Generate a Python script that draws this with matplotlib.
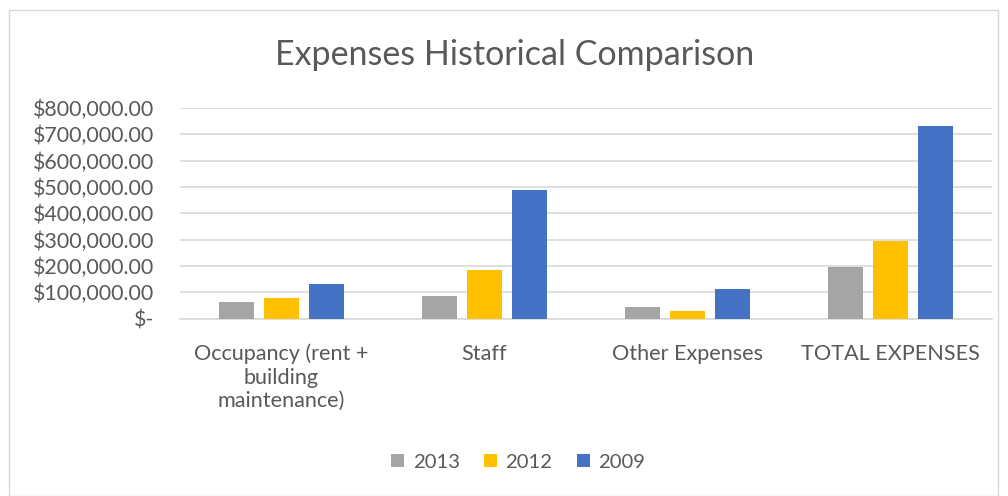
import numpy as np
import matplotlib.pyplot as plt
from matplotlib.patches import Rectangle
from matplotlib.ticker import FuncFormatter

plt.rcParams['font.family'] = ['Lato', 'DejaVu Sans']

# Data
categories = ['Occupancy (rent +\nbuilding\nmaintenance)', 'Staff', 'Other Expenses', 'TOTAL EXPENSES']
years = ['2013', '2012', '2009']
vals_2013 = [62000, 86000, 44500, 196500]
vals_2012 = [77500, 185000, 29000, 294000]
vals_2009 = [132000, 488000, 112000, 733000]
colors = ['#A5A5A5', '#FFC000', '#4472C4']

text_col = '#595959'
grid_col = '#D9D9D9'

fig = plt.figure(figsize=(10.08, 4.96), dpi=100)
ax = fig.add_axes([180 / 1008, 1 - 318.7 / 496, 812 / 1008, (318.7 - 108) / 496])

# outer chart border
fig.patches.append(Rectangle((9 / 1008, 0.5 / 496), 989 / 1008, 486 / 496,
                             transform=fig.transFigure, fill=False,
                             edgecolor=grid_col, linewidth=1))

x = np.arange(len(categories))
w = 0.175
step = 0.222
for i, (vals, yr) in enumerate(zip([vals_2013, vals_2012, vals_2009], years)):
    ax.bar(x + (i - 1) * step, vals, width=w, color=colors[i], label=yr, zorder=3)

ax.set_xlim(-0.5, len(categories) - 0.5)
ax.set_ylim(0, 800000)
ax.set_yticks(np.arange(0, 800001, 100000))


def money(v, pos):
    if v == 0:
        return '$-'
    return '${:,.2f}'.format(v)


ax.yaxis.set_major_formatter(FuncFormatter(money))
ax.grid(axis='y', color=grid_col, linewidth=1.2, zorder=0)
for s in ['top', 'right', 'left']:
    ax.spines[s].set_visible(False)
ax.spines['bottom'].set_color(grid_col)
ax.spines['bottom'].set_linewidth(1.2)
ax.tick_params(axis='both', length=0, labelsize=15.4, labelcolor=text_col)
ax.tick_params(axis='y', pad=18.5)
ax.tick_params(axis='x', pad=18, labelsize=15.6)
ax.set_xticks(x)
ax.set_xticklabels(categories, linespacing=1.22, va='top')

fig.text(515 / 1008, 1 - 55 / 496, 'Expenses Historical Comparison', ha='center', va='center',
         fontsize=24.5, color=text_col)

leg = fig.legend(loc='center', bbox_to_anchor=(518 / 1008, 1 - 462 / 496), ncol=3, frameon=False,
                 fontsize=14.6, handlelength=0.65, handleheight=0.65, handletextpad=0.4,
                 columnspacing=1.2, labelcolor=text_col)

fig.savefig('out.png', dpi=100)
